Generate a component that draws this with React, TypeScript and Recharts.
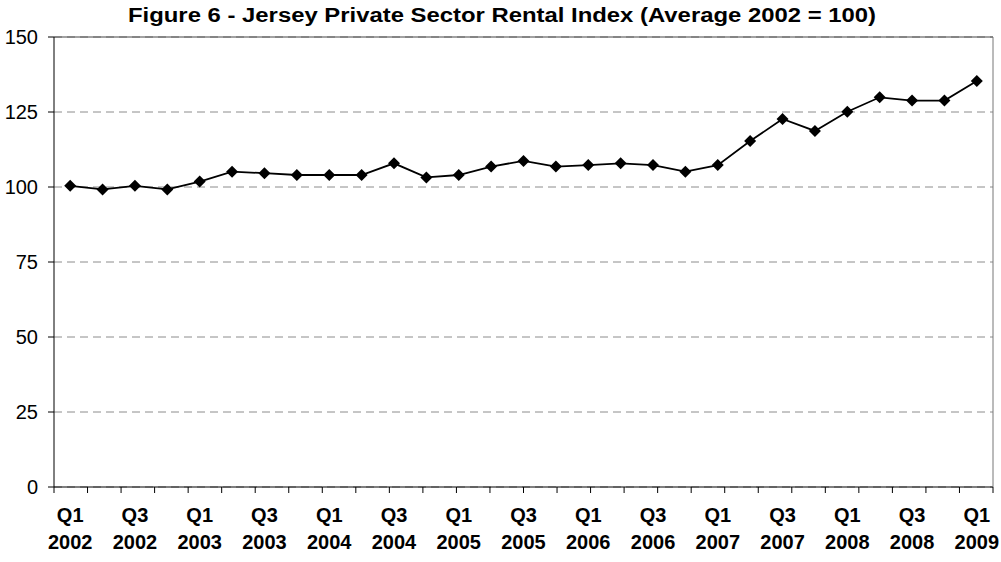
import React from "react";
import {
  CartesianGrid,
  ComposedChart,
  Line,
  XAxis,
  YAxis,
} from "recharts";

const quarters = [
  "Q1 2002", "Q2 2002", "Q3 2002", "Q4 2002",
  "Q1 2003", "Q2 2003", "Q3 2003", "Q4 2003",
  "Q1 2004", "Q2 2004", "Q3 2004", "Q4 2004",
  "Q1 2005", "Q2 2005", "Q3 2005", "Q4 2005",
  "Q1 2006", "Q2 2006", "Q3 2006", "Q4 2006",
  "Q1 2007", "Q2 2007", "Q3 2007", "Q4 2007",
  "Q1 2008", "Q2 2008", "Q3 2008", "Q4 2008",
  "Q1 2009",
];

const rentalIndex = [
  100.4, 99.2, 100.4, 99.2,
  101.8, 105.1, 104.6, 104.0,
  104.0, 104.0, 107.9, 103.2,
  104.0, 106.8, 108.7, 106.8,
  107.3, 107.9, 107.3, 105.1,
  107.3, 115.3, 122.7, 118.7,
  125.1, 129.9, 128.8, 128.8,
  135.3,
];

const yTicks = [0, 25, 50, 75, 100, 125, 150];
const boundaryTicks = quarters.map((_, i) => i).concat([quarters.length]);

const data = quarters.map((q, i) => ({ quarter: q, index: rentalIndex[i] }));

const FONT = "Arial, 'Liberation Sans', sans-serif";
const TITLE = "Figure 6 - Jersey Private Sector Rental Index (Average 2002 = 100)";

const Diamond = (props: any) => {
  const { cx, cy } = props;
  if (cx == null || cy == null) return null;
  const r = 6;
  return (
    <polygon
      points={`${cx},${cy - r} ${cx + r},${cy} ${cx},${cy + r} ${cx - r},${cy}`}
      fill="#000"
    />
  );
};

const QuarterTick = (props: any) => {
  const { x, y, payload } = props;
  const [q, year] = String(payload.value).split(" ");
  return (
    <text
      x={x}
      y={y}
      textAnchor="middle"
      fontFamily={FONT}
      fontWeight="bold"
      fontSize={20}
      fill="#000"
    >
      <tspan x={x} dy={21}>{q}</tspan>
      <tspan x={x} dy={27}>{year}</tspan>
    </text>
  );
};

const noLabel = () => "";

export default function App() {
  return (
    <div style={{ position: "absolute", left: 0, top: 0, width: 1001, height: 562, background: "#fff" }}>
      <svg
        width={1001}
        height={30}
        style={{ position: "absolute", left: 0, top: 0 }}
      >
        <text
          x={502}
          y={22}
          textAnchor="middle"
          fontFamily={FONT}
          fontWeight="bold"
          fontSize={20}
          textLength={748}
          lengthAdjust="spacingAndGlyphs"
        >
          {TITLE}
        </text>
      </svg>
      <ComposedChart
        width={1001}
        height={562}
        data={data}
        margin={{ top: 36, right: 7, bottom: 0, left: 0 }}
      >
        <CartesianGrid
          xAxisId="cat"
          vertical={false}
          stroke="#8c8c8c"
          strokeDasharray="8 5"
        />
        <XAxis
          xAxisId="frameTop"
          orientation="top"
          type="number"
          domain={[0, quarters.length]}
          ticks={[0, quarters.length]}
          tickFormatter={noLabel}
          tickLine={false}
          tickSize={0}
          height={1}
          stroke="#444"
          allowDataOverflow
        />
        <XAxis
          xAxisId="bound"
          type="number"
          domain={[0, quarters.length]}
          ticks={boundaryTicks}
          tickFormatter={noLabel}
          tickSize={6}
          height={6}
          stroke="#000"
          allowDataOverflow
        />
        <XAxis
          xAxisId="cat"
          dataKey="quarter"
          scale="band"
          interval={1}
          tickLine={false}
          axisLine={false}
          height={69}
          tick={<QuarterTick />}
        />
        <YAxis
          domain={[0, 150]}
          ticks={yTicks}
          tickSize={6}
          tickMargin={10}
          width={54}
          stroke="#000"
          tick={{ fontSize: 20, fill: "#000", fontFamily: FONT }}
        />
        <YAxis
          yAxisId="frameRight"
          orientation="right"
          type="number"
          domain={[0, 150]}
          ticks={[0, 150]}
          tickFormatter={noLabel}
          tickLine={false}
          tickSize={0}
          width={1}
          stroke="#777"
          allowDataOverflow
        />
        <Line
          xAxisId="cat"
          dataKey="index"
          stroke="#000"
          strokeWidth={1.8}
          dot={<Diamond />}
          activeDot={false}
          isAnimationActive={false}
        />
      </ComposedChart>
    </div>
  );
}
